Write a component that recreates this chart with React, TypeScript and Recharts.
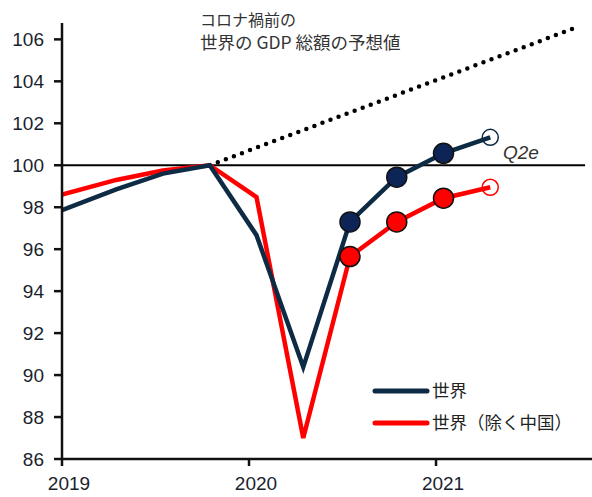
import { LineChart, Line, XAxis, YAxis, ReferenceLine } from "recharts";

// quarter positions in years (plotted a little after quarter start)
const periods = [2019.0, 2019.29, 2019.54, 2019.79, 2020.04, 2020.29, 2020.54, 2020.79, 2021.04, 2021.29];
const world = [97.86, 98.85, 99.6, 100, 96.67, 90.38, 97.3, 99.43, 100.57, 101.33];
const worldExChina = [98.6, 99.3, 99.75, 100, 98.48, 87.0, 95.65, 97.3, 98.43, 98.95];
// marker kind per point: filled actuals, open = estimate
const markers = ["", "", "", "", "", "", "fill", "fill", "fill", "open"];

const trendPeriods = [2019.79, 2021.75];
const trendValues = [100, 106.57];

const yTicks = [86, 88, 90, 92, 94, 96, 98, 100, 102, 104, 106];
const xTicks = [2019, 2020, 2021];

const NAVY = "#0e2b45";
const NAVY_DOT = "#0c2456";
const RED = "#ff0000";
const FONT = "'Liberation Sans', Arial, sans-serif";
const JP_FONT = "'Noto Sans CJK JP', sans-serif";

const data = periods.map((t, i) => ({ t, world: world[i], exChina: worldExChina[i] }));
const trend = trendPeriods.map((t, i) => ({ t, trend: trendValues[i] }));

const makeDot = (fillColor: string, strokeColor: string) => (props: any) => {
  const { cx, cy, index } = props;
  const kind = markers[index];
  if (kind === "fill") {
    return <circle key={index} cx={cx} cy={cy} r={10} fill={fillColor} stroke="#111" strokeWidth={1.5} />;
  }
  if (kind === "open") {
    return <circle key={index} cx={cx} cy={cy} r={8} fill="none" stroke={strokeColor} strokeWidth={1.5} />;
  }
  return <g key={index} />;
};

export default function App() {
  return (
    <div style={{ position: "absolute", left: 0, top: 0, width: 592, height: 497, background: "#fff" }}>
      <LineChart width={592} height={497} margin={{ top: 23, right: 0, bottom: 0, left: 0 }}>
        <XAxis
          dataKey="t"
          type="number"
          domain={[2019, 2021.834]}
          ticks={xTicks}
          allowDataOverflow
          height={38}
          stroke="#111"
          strokeWidth={2.5}
          tickSize={7}
          tickMargin={11}
          tick={{ fontSize: 19, fill: "#1a1f2e", fontFamily: FONT, dx: 7 }}
        />
        <YAxis
          type="number"
          domain={[86, 106.78]}
          ticks={yTicks}
          allowDataOverflow
          width={62}
          stroke="#111"
          strokeWidth={2.5}
          tickSize={8}
          tickMargin={10}
          tick={{ fontSize: 19, fill: "#1a1f2e", fontFamily: FONT }}
        />
        <ReferenceLine
          segment={[{ x: 2019, y: 100 }, { x: 2021.797, y: 100 }]}
          stroke="#000"
          strokeWidth={1.8}
        />
        <Line
          data={trend}
          dataKey="trend"
          stroke="#000"
          strokeWidth={4.5}
          strokeDasharray="0 8.6"
          strokeLinecap="round"
          dot={false}
          isAnimationActive={false}
        />
        <Line
          data={data}
          dataKey="exChina"
          stroke={RED}
          strokeWidth={4.5}
          strokeLinejoin="miter"
          dot={makeDot(RED, RED)}
          activeDot={false}
          isAnimationActive={false}
        />
        <Line
          data={data}
          dataKey="world"
          stroke={NAVY}
          strokeWidth={4.5}
          strokeLinejoin="miter"
          dot={makeDot(NAVY_DOT, NAVY)}
          activeDot={false}
          isAnimationActive={false}
        />
        <text x={200} y={26} fontSize={16} fill="#333" fontFamily={JP_FONT}>コロナ禍前の</text>
        <text x={200} y={49} fontSize={17.5} fill="#333" fontFamily={JP_FONT}>世界の GDP 総額の予想値</text>
        <text x={503} y={159} fontSize={19} fill="#333" fontStyle="italic" fontFamily={FONT}>Q2e</text>
        <line x1={375} y1={391} x2={427} y2={391} stroke={NAVY} strokeWidth={5} strokeLinecap="round" />
        <text x={432} y={397} fontSize={17.5} fill="#222" fontFamily={JP_FONT}>世界</text>
        <line x1={375} y1={423} x2={427} y2={423} stroke={RED} strokeWidth={5} strokeLinecap="round" />
        <text x={432} y={429} fontSize={17.5} fill="#222" fontFamily={JP_FONT}>世界（除く中国）</text>
      </LineChart>
    </div>
  );
}
